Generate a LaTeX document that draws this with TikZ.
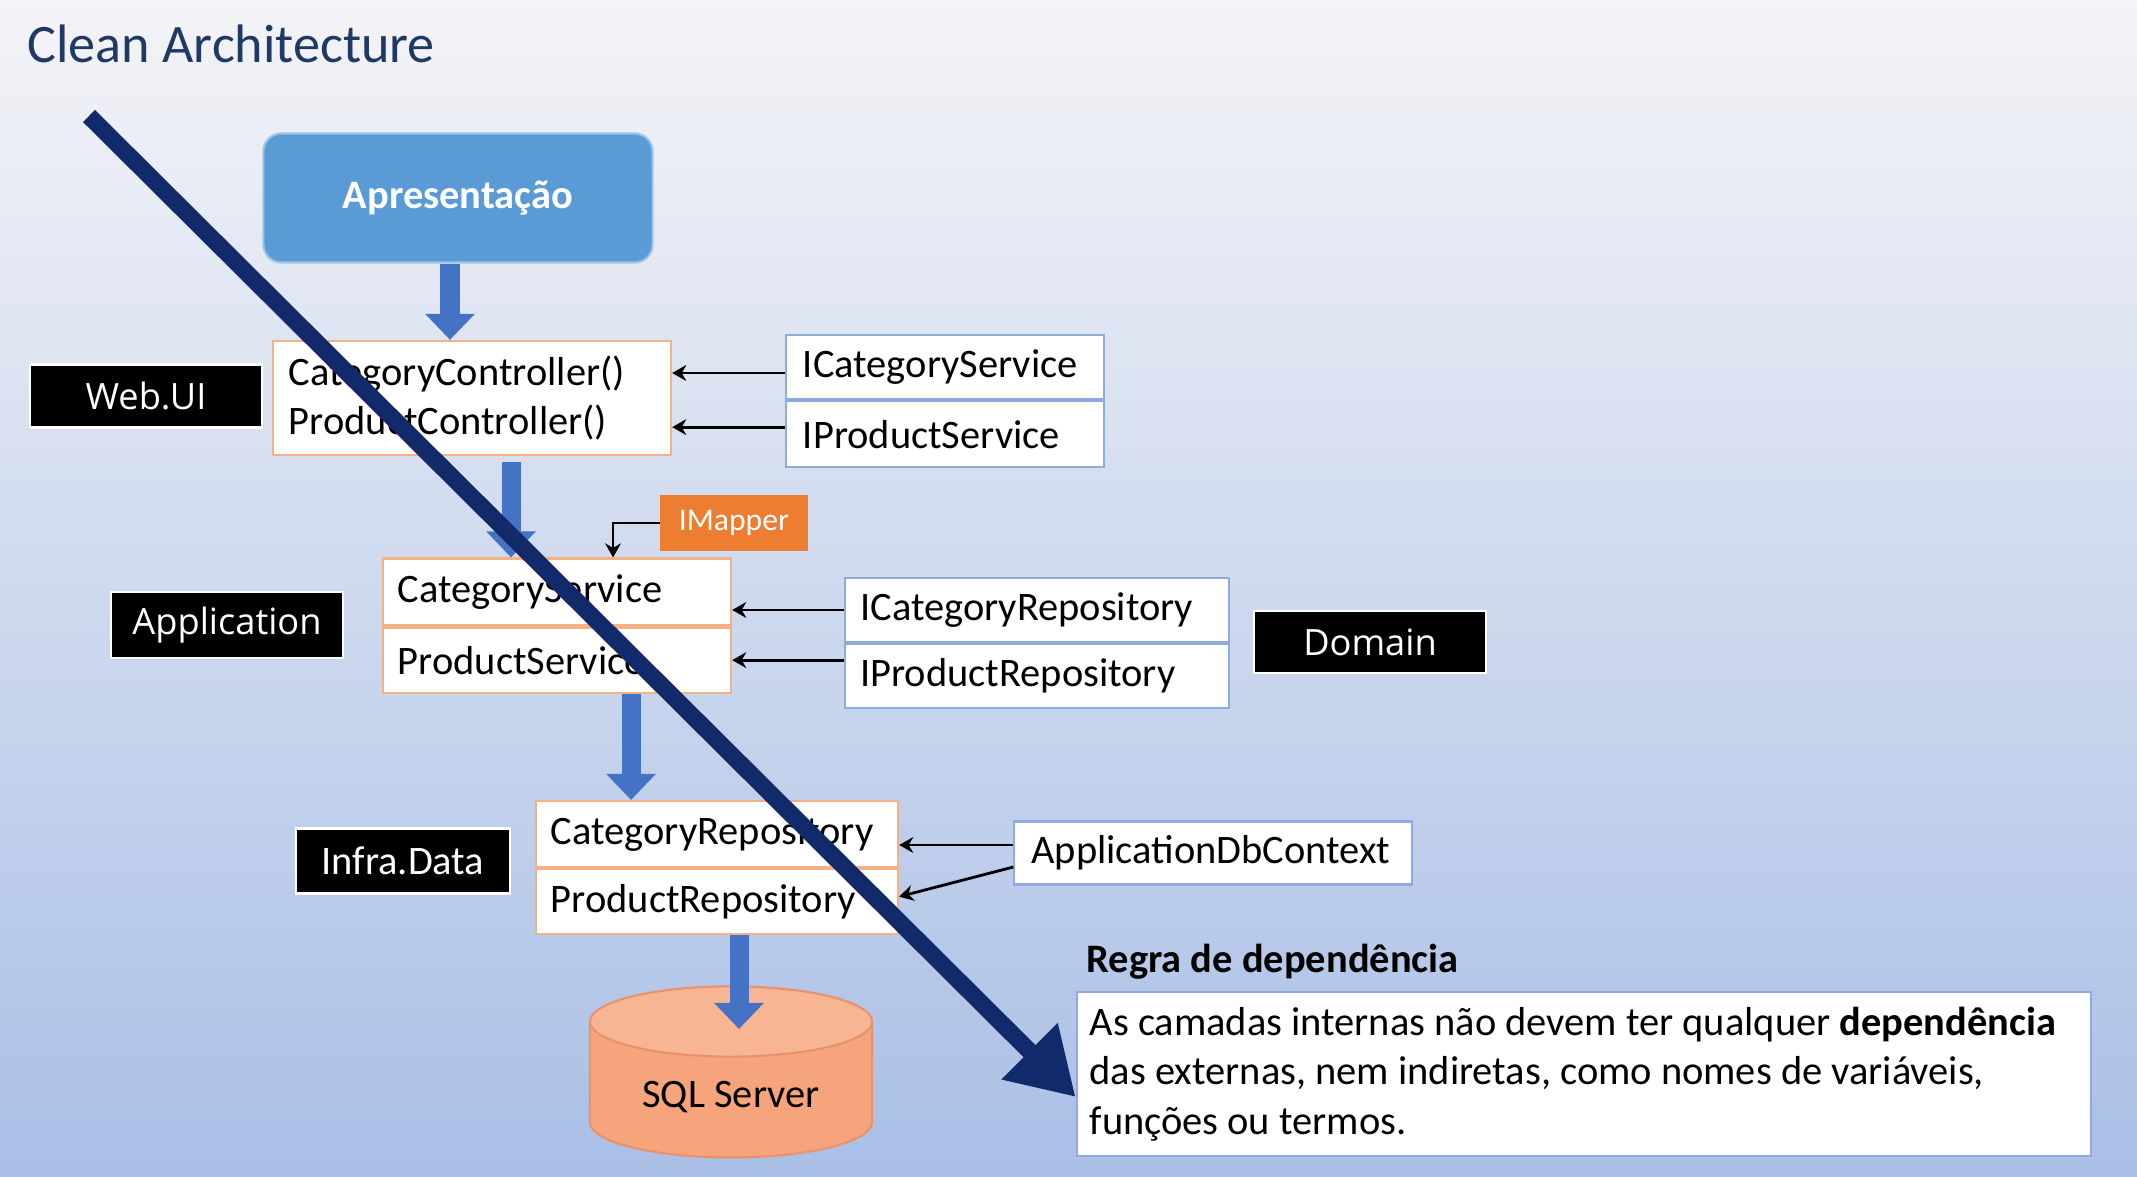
\documentclass[tikz,border=0pt]{standalone}
\usepackage{fontspec}
\setmainfont{Carlito}
\newfontfamily\segoefont{Open Sans}
\usetikzlibrary{arrows.meta,shapes.geometric,positioning}
\hyphenpenalty=10000
\exhyphenpenalty=10000

\definecolor{bgtop}{HTML}{F4F4F7}
\definecolor{bgmid}{HTML}{CFD9EE}
\definecolor{bgbot}{HTML}{A9BFE6}
\definecolor{titleblue}{HTML}{1F3864}
\definecolor{apresblue}{HTML}{5B9BD5}
\definecolor{flowblue}{HTML}{4472C4}
\definecolor{implline}{HTML}{F4B183}
\definecolor{ifaceline}{HTML}{8FAADC}
\definecolor{mapperorange}{HTML}{ED7D31}
\definecolor{sqlbody}{HTML}{F6A47C}
\definecolor{sqlend}{HTML}{F8B594}
\definecolor{sqlline}{HTML}{E8926A}
\definecolor{rulenavy}{HTML}{12296A}

\begin{document}
\begin{tikzpicture}[x=0.01cm, y=-0.01cm,
  impl/.style={rectangle, draw=implline, fill=white, line width=0.6pt, inner ysep=0pt, inner xsep=0.15cm, align=flush left, font=\fontsize{11.5}{14}\selectfont},
  iface/.style={impl, draw=ifaceline},
  layertag/.style={rectangle, draw=white, fill=black, text=white, line width=0.6pt, font=\segoefont\fontsize{10.3}{12}\selectfont},
  flow/.style={draw=flowblue, line width=0.19cm, -{Triangle[width=0.48cm, length=0.26cm]}},
  dep/.style={draw=black, line width=0.8pt, -{Stealth[length=4pt, width=4.5pt]}},
  deparrow/.style={draw=rulenavy, line width=0.17cm, -{Triangle[width=0.75cm, length=0.65cm]}}]
 \useasboundingbox (0,0) rectangle (2137,1176);
 \shade[top color=bgtop, middle color=bgmid, bottom color=bgbot] (0,0) rectangle (2137,1176);

 \node[anchor=west, text=titleblue, font=\fontsize{15.4}{18}\selectfont, inner sep=0pt] (title) at (27,44) {Clean Architecture};
 \node[rectangle, rounded corners=0.18cm, fill=apresblue, draw=apresblue!60!white, line width=0.6pt, text=white, font=\bfseries\fontsize{11.5}{13}\selectfont, minimum width=3.89cm, minimum height=1.29cm] (apres) at (458,198) {Apresentação};

 \node[impl, text width=3.66cm, inner xsep=0.16cm, minimum height=1.14cm] (ctrl) at (472,398) {CategoryController()\\ProductController()};
 \node[layertag, minimum width=2.32cm, minimum height=0.63cm] (webui) at (146,396) {Web.UI};
 \node[iface, text width=2.84cm, inner xsep=0.17cm, minimum height=0.64cm] (icatsvc) at (945,367) {ICategoryService};
 \node[iface, text width=2.84cm, inner xsep=0.17cm, minimum height=0.66cm, below=0pt of icatsvc] (iprodsvc) {IProductService};

 \node[rectangle, fill=mapperorange, text=white, font=\fontsize{9}{11}\selectfont, minimum width=1.47cm, minimum height=0.55cm] (imapper) at (734,523) {IMapper};
 \node[impl, text width=3.18cm, minimum height=0.67cm] (catsvc) at (557,592) {CategoryService};
 \node[impl, text width=3.18cm, minimum height=0.65cm, below=0pt of catsvc] (prodsvc) {ProductService};
 \node[layertag, minimum width=2.31cm, minimum height=0.66cm] (app) at (227,625) {Application};
 \node[iface, text width=3.53cm, minimum height=0.64cm] (icatrepo) at (1037,610) {ICategoryRepository};
 \node[iface, text width=3.53cm, minimum height=0.64cm, below=0pt of icatrepo] (iprodrepo) {IProductRepository};
 \node[layertag, minimum width=2.32cm, minimum height=0.62cm] (domain) at (1370,642) {Domain};

 \node[impl, text width=3.32cm, minimum height=0.66cm] (catrepo) at (717,834) {CategoryRepository};
 \node[impl, text width=3.32cm, minimum height=0.65cm, below=0pt of catrepo] (prodrepo) {ProductRepository};
 \node[layertag, font=\fontsize{11.5}{13}\selectfont, minimum width=2.13cm, minimum height=0.65cm] (infra) at (403,861) {Infra.Data};
 \node[iface, text width=3.63cm, inner xsep=0.17cm, minimum height=0.63cm] (dbctx) at (1213,853) {ApplicationDbContext};

 \node[cylinder, shape border rotate=90, aspect=0.35, draw=sqlline, line width=0.6pt, cylinder uses custom fill, cylinder body fill=sqlbody, cylinder end fill=sqlend, minimum width=2.82cm, minimum height=1.71cm, font=\fontsize{11.5}{13}\selectfont] (sql) at (731,1097) {SQL Server};

 \node[anchor=west, inner sep=0pt, font=\bfseries\fontsize{11.5}{13}\selectfont] (rulelbl) at (1086,962) {Regra de dependência};
 \node[rectangle, draw=ifaceline, fill=white, line width=0.6pt, text width=9.88cm, inner xsep=0.13cm, minimum height=1.64cm, align=flush left, font=\fontsize{11.5}{14}\selectfont] (rulebox) at (1584,1074) {As camadas internas não devem ter qualquer \textbf{dependência}\\das externas, nem indiretas, como nomes de variáveis,\\funções ou termos.};

 \coordinate (sqltop) at (739,1029);
 \coordinate (rulestart) at (89,116);

 \draw[flow] ([xshift=-0.08cm]apres.south) -- ([xshift=-0.08cm]apres.south |- ctrl.north);
 \draw[flow] ([xshift=0.39cm,yshift=-0.06cm]ctrl.south) -- ([xshift=0.39cm]ctrl.south |- catsvc.north);
 \draw[flow] ([xshift=0.74cm]prodsvc.south) -- ([xshift=0.74cm]prodsvc.south |- catrepo.north);
 \draw[flow] (prodrepo.south -| sqltop) -- (sqltop);

 \draw[dep] ([yshift=-0.06cm]icatsvc.west) -- ([yshift=-0.06cm]icatsvc.west -| ctrl.east);
 \draw[dep] ([yshift=0.07cm]iprodsvc.west) -- ([yshift=0.07cm]iprodsvc.west -| ctrl.east);
 \draw[dep] (imapper.west) -| ([xshift=0.56cm]catsvc.north);
 \draw[dep] (icatrepo.west) -- (icatrepo.west -| catsvc.east);
 \draw[dep] (prodsvc.east -| iprodrepo.west) -- (prodsvc.east);
 \draw[dep] ([yshift=0.08cm]dbctx.west) -- ([yshift=0.08cm]dbctx.west -| catrepo.east);
 \draw[dep] ([yshift=-0.14cm]dbctx.west) -- ([yshift=0.05cm]prodrepo.east);

 \draw[deparrow] (rulestart) -- ([yshift=-0.23cm]rulebox.west);
\end{tikzpicture}
\end{document}
